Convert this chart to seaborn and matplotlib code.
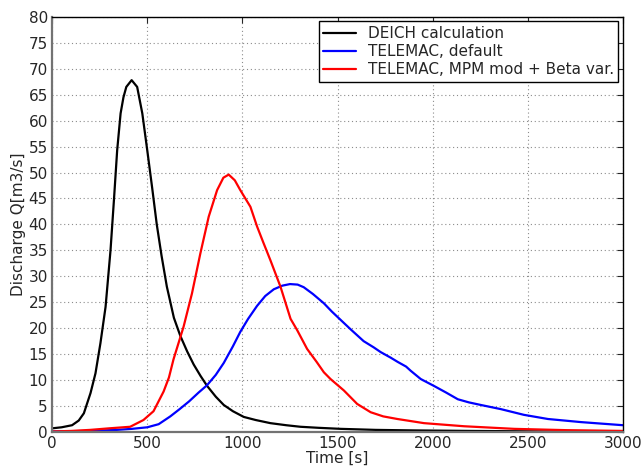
import numpy as np
import pandas as pd
import seaborn as sns
import matplotlib
matplotlib.use('Agg')
import matplotlib.pyplot as plt

# data
deich_t = [0, 50, 105, 140, 167, 202, 228, 254, 281, 307, 325, 342, 360, 375, 390,
           418, 447, 474, 500, 526, 550, 575, 603, 640, 674, 710, 744, 780, 814, 860,
           902, 950, 1007, 1070, 1147, 1230, 1305, 1400, 1516, 1700, 1900, 2200,
           2600, 3000]
deich_q = [0.7, 0.9, 1.3, 2.2, 3.6, 7.5, 11.3, 17.1, 24.1, 35.0, 44.7, 54.3, 61.4,
           64.5, 66.5, 67.8, 66.5, 61.4, 54.3, 47.0, 40.0, 34.0, 28.0, 22.0, 18.5,
           15.5, 13.0, 10.8, 8.9, 6.8, 5.2, 4.0, 2.9, 2.3, 1.7, 1.3, 1.0, 0.8, 0.6,
           0.4, 0.3, 0.2, 0.1, 0.05]

default_t = [0, 200, 340, 420, 500, 560, 621, 670, 720, 770, 814, 860, 902, 950, 989,
             1030, 1077, 1120, 1165, 1210, 1250, 1290, 1322, 1370, 1428, 1470, 1516,
             1568, 1637, 1690, 1726, 1780, 1816, 1860, 1884, 1937, 2005, 2070, 2132,
             2190, 2253, 2358, 2479, 2605, 2779, 3000]
default_q = [0.1, 0.2, 0.4, 0.6, 0.9, 1.5, 3.0, 4.4, 5.9, 7.6, 9.0, 11.0, 13.3, 16.5,
             19.3, 21.8, 24.3, 26.2, 27.5, 28.2, 28.5, 28.4, 27.9, 26.6, 24.8, 23.2,
             21.6, 19.8, 17.5, 16.3, 15.4, 14.3, 13.5, 12.6, 11.8, 10.2, 8.9, 7.6,
             6.3, 5.7, 5.2, 4.4, 3.3, 2.5, 1.9, 1.3]

mpm_t = [0, 100, 200, 300, 410, 480, 533, 586, 614, 638, 691, 735, 779, 823, 867,
         900, 928, 960, 989, 1042, 1077, 1110, 1147, 1200, 1253, 1288, 1340, 1390,
         1428, 1463, 1533, 1603, 1674, 1740, 1814, 1954, 2165, 2428, 2700, 3000]
mpm_q = [0.1, 0.2, 0.4, 0.7, 1.0, 2.3, 4.0, 7.8, 10.5, 14.0, 20.3, 26.7, 34.4, 41.5,
         46.6, 49.0, 49.6, 48.5, 46.6, 43.4, 39.6, 36.5, 33.1, 28.0, 21.8, 19.6,
         16.0, 13.5, 11.5, 10.2, 8.0, 5.4, 3.8, 3.0, 2.5, 1.7, 1.1, 0.6, 0.35, 0.2]

labels = ['DEICH calculation', 'TELEMAC, default', 'TELEMAC, MPM mod + Beta var.']
colors = ['black', 'blue', 'red']

sns.set_style('white')
plt.rcParams['font.family'] = ['DejaVu Sans']

fig = plt.figure(figsize=(6.43, 4.68), dpi=100)
ax = fig.add_axes([0.081, 0.077, 0.888, 0.887])

for t, q, lab, c in zip([deich_t, default_t, mpm_t], [deich_q, default_q, mpm_q], labels, colors):
    df = pd.DataFrame({'t': t, 'q': q})
    sns.lineplot(data=df, x='t', y='q', ax=ax, color=c, lw=1.6, label=lab)

ax.set_xlim(0, 3000)
ax.set_ylim(0, 80)
ax.set_xticks(np.arange(0, 3001, 500))
ax.set_yticks(np.arange(0, 81, 5))
ax.tick_params(direction='in', top=True, right=True, labelsize=11, length=4, pad=3)
ax.grid(True, linestyle=(0, (1, 2.5)), color='0.55', linewidth=0.8)
ax.set_xlabel('Time [s]', fontsize=11, labelpad=0)
ax.set_ylabel('Discharge Q[m3/s]', fontsize=11, labelpad=2)

for s in ['top', 'right']:
    ax.spines[s].set_color('black')
    ax.spines[s].set_linewidth(1.0)
for s in ['left', 'bottom']:
    ax.spines[s].set_color('0.45')
    ax.spines[s].set_linewidth(1.6)

leg = ax.legend(loc='upper right', fontsize=11, frameon=True, fancybox=False,
                framealpha=1, edgecolor='black', borderpad=0.3, labelspacing=0.2,
                handlelength=2.1, borderaxespad=0.3)
leg.get_frame().set_linewidth(1.0)

fig.savefig('out.png', dpi=100)
